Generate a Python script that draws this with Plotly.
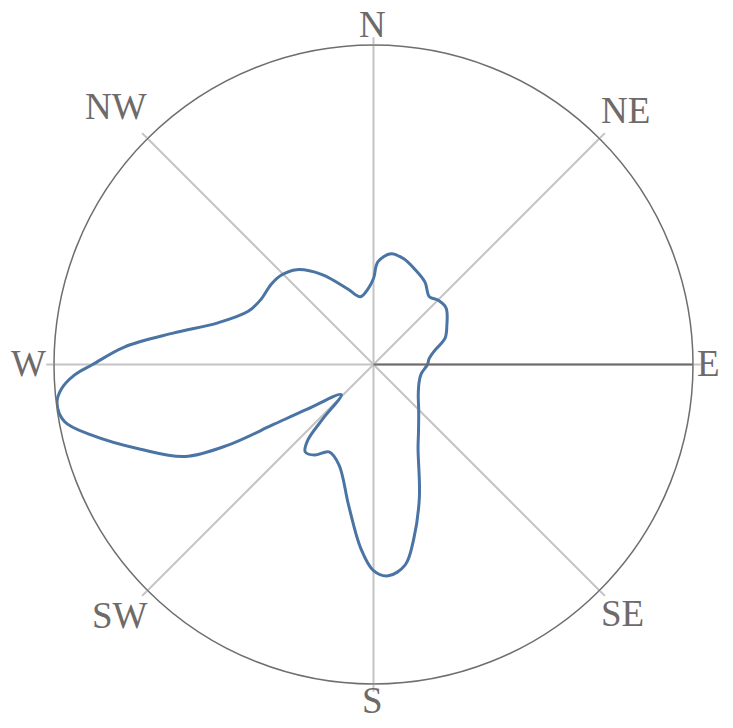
import math
import plotly.graph_objects as go

# wind direction profile (bearing in degrees, relative magnitude out of 10)
bearing = [227, 236, 239, 241, 244, 250, 256, 259.5, 263, 265.5, 268, 270, 274,
           279, 285, 293, 300, 308, 314, 321, 330, 341, 349, 356, 360, 362.5,
           369, 376, 383, 392, 399.5, 405, 412, 422, 430, 437, 444, 450, 461,
           471, 484, 495, 506, 512, 521, 527, 531, 536, 540, 544, 550, 559,
           567, 573, 578, 581, 583, 587]
value = [1.38, 2.50, 3.63, 5.20, 6.57, 7.76, 9.11, 9.83, 9.98, 9.80, 9.36, 8.79,
         7.82, 6.32, 5.04, 4.26, 4.07, 4.07, 4.02, 3.82, 3.26, 2.51, 2.16, 2.38,
         2.69, 3.22, 3.51, 3.44, 3.26, 3.04, 2.75, 2.85, 2.88, 2.60, 2.38, 1.97,
         1.75, 1.69, 1.52, 1.53, 1.69, 2.00, 2.52, 2.97, 4.41, 5.60, 6.35, 6.63,
         6.45, 5.76, 4.48, 3.32, 3.07, 3.38, 3.47, 3.13, 2.32, 1.38]

compass_deg = [0, 45, 90, 135, 180, 225, 270, 315]
compass_txt = ["N", "NE", "E", "SE", "S", "SW", "W", "NW"]

W, H = 733, 728
M = dict(l=46, r=48, t=37, b=52)

fig = go.Figure()
fig.add_trace(go.Scatterpolar(
    r=value,
    theta=[b % 360 for b in bearing],
    mode="lines",
    line=dict(color="#4a74a3", width=3, shape="spline", smoothing=1.0),
    showlegend=False,
    hoverinfo="skip",
))

# compass labels sit close to the rim, so place them as annotations
# (centre of the rose in figure pixels; the page adds an 8px body margin)
cx, cy = 372.5 - 8, 363.5 - 8
label_dist = [339, 358, 336, 353, 337, 357, 344, 363]
pw, ph = W - M["l"] - M["r"], H - M["t"] - M["b"]
for deg, txt, d in zip(compass_deg, compass_txt, label_dist):
    px = cx + d * math.sin(math.radians(deg))
    py = cy - d * math.cos(math.radians(deg))
    fig.add_annotation(
        x=(px - M["l"]) / pw, y=(H - M["b"] - py) / ph,
        xref="paper", yref="paper", text=txt, showarrow=False,
        xanchor="center", yanchor="middle",
        font=dict(family="Liberation Serif", size=37, color="#6e6a6a"),
    )

fig.update_layout(
    width=W, height=H,
    margin=M,
    paper_bgcolor="white",
    polar=dict(
        bgcolor="white",
        angularaxis=dict(
            rotation=90, direction="clockwise",
            tickmode="array", tickvals=compass_deg, ticktext=compass_txt,
            showticklabels=False,
            showgrid=True, gridcolor="#c4c4c4", gridwidth=1.5,
            showline=True, linecolor="#6e6e6e", linewidth=1.5,
            ticks="outside", ticklen=7, tickcolor="#c4c4c4", tickwidth=1.5,
        ),
        radialaxis=dict(
            range=[0, 10], angle=0,
            showticklabels=False, ticks="", showgrid=False,
            showline=True, linecolor="#6e6a6a", linewidth=2,
        ),
    ),
)

fig.write_html("out.html")
